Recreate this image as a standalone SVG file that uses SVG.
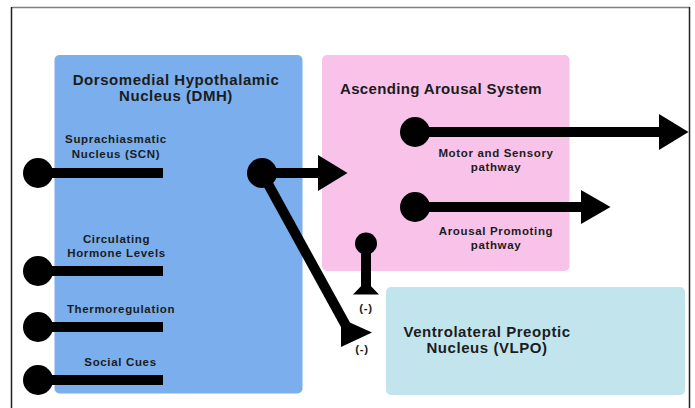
<svg xmlns="http://www.w3.org/2000/svg" width="695" height="408" viewBox="0 0 695 408">
<style>
.t{font-family:"Liberation Sans",Arial,sans-serif;font-weight:bold;fill:#1c1c1c;text-anchor:middle}
.big{font-size:15px;letter-spacing:0.55px}
.sm{font-size:11.5px;letter-spacing:0.65px}
.ln{stroke:#000;stroke-width:10;fill:none}
.dot{fill:#000}
.hd{fill:#000}
</style>
<rect width="695" height="408" fill="#fff"/>
<g id="frame">
<line x1="11.5" y1="7.5" x2="689.5" y2="7.5" stroke="#808080" stroke-width="1.5"/>
<line x1="11.5" y1="7" x2="11.5" y2="410" stroke="#222" stroke-width="1.5"/>
<line x1="689.5" y1="7" x2="689.5" y2="410" stroke="#222" stroke-width="1.5"/>
</g>
<g id="dmh">
<rect x="54.5" y="55" width="248" height="338.5" rx="5" fill="#7aaeec"/>
<text class="t big" x="176" y="85">Dorsomedial Hypothalamic</text>
<text class="t big" x="176" y="101">Nucleus (DMH)</text>
</g>
<g id="aas">
<rect x="322" y="55" width="247.5" height="216" rx="5" fill="#f9c2e9"/>
<text class="t big" x="441" y="94" style="letter-spacing:0.35px">Ascending Arousal System</text>
</g>
<g id="vlpo">
<rect x="386" y="287" width="299" height="108" rx="5" fill="#c2e5ed"/>
<text class="t big" x="487" y="337">Ventrolateral Preoptic</text>
<text class="t big" x="487" y="353">Nucleus (VLPO)</text>
</g>
<g id="scn">
<text class="t sm" x="116" y="143">Suprachiasmatic</text>
<text class="t sm" x="116" y="158">Nucleus (SCN)</text>
</g>
<g id="hormone">
<text class="t sm" x="116.5" y="243">Circulating</text>
<text class="t sm" x="116.5" y="257">Hormone Levels</text>
</g>
<g id="thermo">
<text class="t sm" x="121" y="313">Thermoregulation</text>
</g>
<g id="social">
<text class="t sm" x="120.5" y="366">Social Cues</text>
</g>
<g id="motor">
<text class="t sm" x="496" y="157">Motor and Sensory</text>
<text class="t sm" x="496" y="171">pathway</text>
</g>
<g id="arousal">
<text class="t sm" x="496" y="235">Arousal Promoting</text>
<text class="t sm" x="496" y="249">pathway</text>
</g>
<g id="connectors">
<line class="ln" x1="38" y1="173" x2="163" y2="173"/>
<circle class="dot" cx="38" cy="173" r="15"/>
<line class="ln" x1="38" y1="271" x2="163" y2="271"/>
<circle class="dot" cx="38" cy="271" r="15"/>
<line class="ln" x1="38" y1="327" x2="163" y2="327"/>
<circle class="dot" cx="38" cy="327" r="15"/>
<line class="ln" x1="38" y1="380" x2="163" y2="380"/>
<circle class="dot" cx="38" cy="380" r="15"/>
<line class="ln" x1="262" y1="173" x2="320" y2="173"/>
<polygon class="hd" points="318,155 347.5,173 318,191"/>
<text class="t sm" x="362" y="353">(-)</text>
<line class="ln" x1="262" y1="173" x2="350" y2="333" stroke-width="11"/>
<polygon class="hd" points="341,318.5 372,332.5 341,347"/>
<circle class="dot" cx="262" cy="173" r="15"/>
<line class="ln" x1="415" y1="132" x2="661" y2="132"/>
<polygon class="hd" points="659,114 688.5,132 659,150"/>
<circle class="dot" cx="415" cy="132" r="15"/>
<line class="ln" x1="415" y1="207" x2="583" y2="207"/>
<polygon class="hd" points="581,190 610.5,207 581,224"/>
<circle class="dot" cx="415" cy="207" r="15"/>
<circle class="dot" cx="366" cy="243.5" r="11"/>
<line class="ln" x1="366" y1="243" x2="366" y2="290" stroke-width="7"/>
<polygon class="hd" points="353,294.5 379,294.5 366,281"/>
<text class="t sm" x="366" y="312">(-)</text>
</g>
</svg>
